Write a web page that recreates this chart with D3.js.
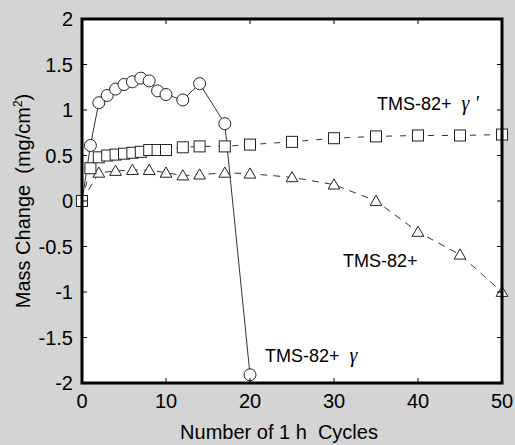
<!DOCTYPE html>
<html>
<head>
<meta charset="utf-8">
<script src="https://cdn.jsdelivr.net/npm/d3@7"></script>
<style>
body { margin: 0; background: #d4d4d4; }
svg { display: block; font-family: "Liberation Sans", Arial, sans-serif; }
</style>
</head>
<body>
<script>
var width = 515;
var height = 445;
var plotLeft = 82, plotRight = 502, plotTop = 19, plotBottom = 383;

// TMS-82+ gamma (circles)
var gammaX = [0, 1, 2, 3, 4, 5, 6, 7, 8, 9, 10, 12, 14, 17, 20];
var gammaY = [0, 0.61, 1.08, 1.16, 1.23, 1.28, 1.31, 1.35, 1.32, 1.21, 1.17, 1.11, 1.29, 0.85, -1.91];

// TMS-82+ gamma' (squares)
var gpX = [0, 1, 2, 3, 4, 5, 6, 7, 8, 9, 10, 12, 14, 17, 20, 25, 30, 35, 40, 45, 50];
var gpY = [0, 0.36, 0.48, 0.50, 0.51, 0.52, 0.53, 0.54, 0.56, 0.56, 0.56, 0.59, 0.60, 0.60, 0.62, 0.65, 0.69, 0.71, 0.72, 0.72, 0.73];

// TMS-82+ (triangles)
var baseX = [0, 2, 4, 6, 8, 10, 12, 14, 17, 20, 25, 30, 35, 40, 45, 50];
var baseY = [0, 0.31, 0.33, 0.34, 0.34, 0.31, 0.28, 0.29, 0.31, 0.30, 0.26, 0.18, 0.0, -0.34, -0.59, -1.0];

var xTicks = [0, 10, 20, 30, 40, 50];
var yTicks = [-2, -1.5, -1, -0.5, 0, 0.5, 1, 1.5, 2];

var svg = d3.select("body").append("svg")
  .attr("width", width)
  .attr("height", height);

svg.append("rect").attr("width", width).attr("height", height).attr("fill", "#d4d4d4");

var x = d3.scaleLinear().domain([0, 50]).range([plotLeft, plotRight]);
var y = d3.scaleLinear().domain([-2, 2]).range([plotBottom, plotTop]);

svg.append("rect")
  .attr("x", plotLeft).attr("y", plotTop)
  .attr("width", plotRight - plotLeft).attr("height", plotBottom - plotTop)
  .attr("fill", "white");

function pts(xs, ys) { return xs.map(function(d, i) { return [d, ys[i]]; }); }

var line = d3.line().x(function(d) { return x(d[0]); }).y(function(d) { return y(d[1]); });

var gamma = pts(gammaX, gammaY);
var gp = pts(gpX, gpY);
var base = pts(baseX, baseY);

svg.append("path").datum(base).attr("d", line)
  .attr("fill", "none").attr("stroke", "#333").attr("stroke-width", 1)
  .attr("stroke-dasharray", "7,6");
svg.append("path").datum(gp).attr("d", line)
  .attr("fill", "none").attr("stroke", "#333").attr("stroke-width", 1)
  .attr("stroke-dasharray", "6,8");
svg.append("path").datum(gamma).attr("d", line)
  .attr("fill", "none").attr("stroke", "#333").attr("stroke-width", 1);

var tri = d3.symbol().type(d3.symbolTriangle).size(60);
svg.selectAll(".tri").data(base.slice(1)).enter().append("path")
  .attr("d", tri)
  .attr("transform", function(d) { return "translate(" + x(d[0]) + "," + (y(d[1]) + 1) + ")"; })
  .attr("fill", "white").attr("stroke", "#222").attr("stroke-width", 1);

svg.selectAll(".circ").data(gamma.slice(1)).enter().append("circle")
  .attr("cx", function(d) { return x(d[0]); })
  .attr("cy", function(d) { return y(d[1]); })
  .attr("r", 6)
  .attr("fill", "white").attr("stroke", "#222").attr("stroke-width", 1);

svg.selectAll(".sq").data(gp).enter().append("rect")
  .attr("x", function(d) { return x(d[0]) - 5.5; })
  .attr("y", function(d) { return y(d[1]) - 5.5; })
  .attr("width", 11).attr("height", 11)
  .attr("fill", "white").attr("stroke", "#222").attr("stroke-width", 1);

// inside ticks on all four sides
var tk = 5;
var g = svg.append("g").attr("stroke", "black").attr("stroke-width", 1);
xTicks.slice(1, -1).forEach(function(t) {
  g.append("line").attr("x1", x(t)).attr("x2", x(t)).attr("y1", plotBottom).attr("y2", plotBottom - tk);
  g.append("line").attr("x1", x(t)).attr("x2", x(t)).attr("y1", plotTop).attr("y2", plotTop + tk);
});
yTicks.slice(1, -1).forEach(function(t) {
  g.append("line").attr("x1", plotLeft).attr("x2", plotLeft + tk).attr("y1", y(t)).attr("y2", y(t));
  g.append("line").attr("x1", plotRight).attr("x2", plotRight - tk).attr("y1", y(t)).attr("y2", y(t));
});

svg.append("rect")
  .attr("x", plotLeft).attr("y", plotTop)
  .attr("width", plotRight - plotLeft).attr("height", plotBottom - plotTop)
  .attr("fill", "none").attr("stroke", "black").attr("stroke-width", 3);

svg.selectAll(".xl").data(xTicks).enter().append("text")
  .attr("x", function(d) { return x(d); })
  .attr("y", 408)
  .attr("text-anchor", "middle")
  .attr("font-size", 20)
  .text(function(d) { return d; });

svg.selectAll(".yl").data(yTicks).enter().append("text")
  .attr("x", 73)
  .attr("y", function(d) { return y(d) + 7; })
  .attr("text-anchor", "end")
  .attr("font-size", 20)
  .text(function(d) { return d; });

svg.append("text")
  .attr("x", 279).attr("y", 439)
  .attr("text-anchor", "middle")
  .attr("font-size", 20)
  .attr("xml:space", "preserve")
  .text("Number of 1 h  Cycles");

var yl = svg.append("text")
  .attr("transform", "translate(30,201) rotate(-90)")
  .attr("text-anchor", "middle")
  .attr("font-size", 20)
  .attr("xml:space", "preserve");
yl.append("tspan").text("Mass Change  (mg/cm");
yl.append("tspan").attr("font-size", 12).attr("dy", -8).text("2");
yl.append("tspan").attr("dy", 8).text(")");

function label(tx, ty, greek) {
  var t = svg.append("text").attr("x", tx).attr("y", ty).attr("font-size", 18)
    .attr("xml:space", "preserve");
  t.append("tspan").text("TMS-82+" + (greek ? "  " : ""));
  if (greek) {
    t.append("tspan")
      .attr("font-family", "'Liberation Serif', 'Times New Roman', serif")
      .attr("font-style", "italic")
      .attr("font-size", 20)
      .text(greek);
  }
}
label(377, 110, "\u03b3 '");
label(343, 267, null);
label(265, 362, "\u03b3");
</script>
</body>
</html>
